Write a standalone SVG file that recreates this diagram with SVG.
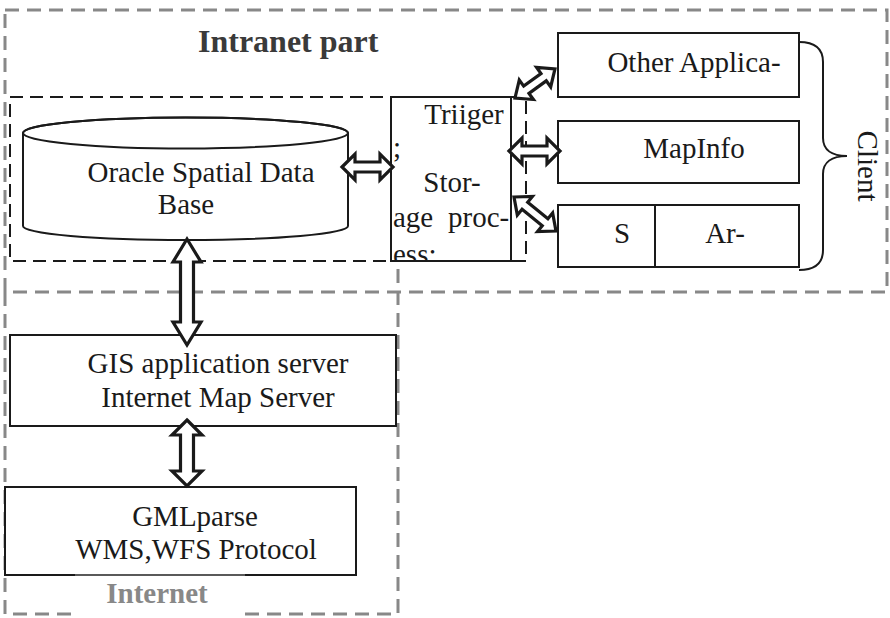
<svg xmlns="http://www.w3.org/2000/svg" width="890" height="618" viewBox="0 0 890 618">
<style>
text{font-family:"Liberation Serif","Times New Roman",serif;font-size:29px;fill:#1a1a1a}
.b{font-weight:bold}
.box{fill:#fff;stroke:#1a1a1a;stroke-width:2}
.gd{fill:none;stroke:#888;stroke-width:3;stroke-dasharray:14 8}
.bd{fill:none;stroke:#1a1a1a;stroke-width:2;stroke-dasharray:13 7}
.arr{fill:#fff;stroke:#1a1a1a;stroke-width:3.2;stroke-linejoin:miter}
</style>
<defs>
<clipPath id="tc"><rect x="391" y="97" width="125" height="164"/></clipPath>
</defs>
<rect width="890" height="618" fill="#fff"/>
<g id="regions">
<rect class="gd" x="5" y="10" width="882" height="282"/>
<path class="gd" d="M5,292 L5,614 L75,614 M245,614 L398,614 L398,262"/>
<rect class="bd" x="10" y="97" width="516" height="164"/>
<text class="b" x="198" y="52" style="font-size:32px;fill:#3a3a3a">Intranet part</text>
</g>
<g id="oracle">
<path class="box" d="M23,133 L23,226 A162.5,14 0 0 0 348,226 L348,133 A162.5,15.5 0 0 0 23,133 Z"/>
<ellipse cx="185.5" cy="133" rx="162.5" ry="15.5" fill="none" stroke="#1a1a1a" stroke-width="2"/>
<text x="201" y="182" text-anchor="middle">Oracle Spatial Data</text>
<text x="186" y="214" text-anchor="middle">Base</text>
</g>
<g id="trigger">
<rect class="box" x="391" y="97" width="120" height="164"/>
<line x1="391" y1="261" x2="522" y2="261" stroke="#1a1a1a" stroke-width="2"/>
<g clip-path="url(#tc)">
<text x="464" y="124" text-anchor="middle">Triiger</text>
<text x="393" y="157">;</text>
<text x="452" y="192" text-anchor="middle">Stor-</text>
<text x="393" y="227">age</text>
<text x="448" y="227">proc-</text>
<text x="393" y="264">ess:</text>
</g>
</g>
<g id="gis">
<rect class="box" x="10" y="335" width="386" height="91"/>
<text x="218" y="373" text-anchor="middle">GIS application server</text>
<text x="218" y="407" text-anchor="middle">Internet Map Server</text>
</g>
<g id="gml">
<rect class="box" x="5" y="487" width="351" height="88"/>
<text x="195" y="526" text-anchor="middle">GMLparse</text>
<text x="196" y="559" text-anchor="middle">WMS,WFS Protocol</text>
</g>
<g id="internet-label">
<rect x="75" y="576" width="170" height="42" fill="#fff"/>
<line x1="75" y1="575" x2="245" y2="575" stroke="#999" stroke-width="1"/>
<text class="b" x="157" y="603" text-anchor="middle" style="fill:#888">Internet</text>
</g>
<g id="other">
<rect class="box" x="558" y="33" width="241" height="64"/>
<text x="694" y="72" text-anchor="middle">Other Applica-</text>
</g>
<g id="mapinfo">
<rect class="box" x="558" y="121" width="241" height="62"/>
<text x="694" y="158" text-anchor="middle">MapInfo</text>
</g>
<g id="arcgis">
<rect class="box" x="558" y="205" width="241" height="62"/>
<line x1="655" y1="205" x2="655" y2="267" stroke="#1a1a1a" stroke-width="2"/>
<text x="622" y="243" text-anchor="middle">S</text>
<text x="725" y="243" text-anchor="middle">Ar-</text>
</g>
<g id="client">
<path d="M799,42 C815,42 823,48 823,62 L823,138 C823,150 832,156 847,156 C832,156 823,162 823,174 L823,250 C823,264 815,270 799,270" fill="none" stroke="#1a1a1a" stroke-width="2"/>
<text x="0" y="0" text-anchor="middle" transform="translate(858,166) rotate(90)">Client</text>
</g>
<g id="connectors">
<polygon class="arr" points="187,239 201,262 193.5,262 193.5,322 201,322 187,345 173,322 180.5,322 180.5,262 173,262"/>
<polygon class="arr" points="187,420 202,435 193.5,435 193.5,471 202,471 187,486 172,471 180.5,471 180.5,435 172,435"/>
<polygon class="arr" points="342,167 355,154 355,162 380,162 380,154 393,167 380,180 380,172 355,172 355,180"/>
<polygon class="arr" points="509,151 522,138 522,146 547,146 547,138 560,151 547,164 547,156 522,156 522,164"/>
<polygon class="arr" transform="translate(515,98) rotate(-36)" points="0,0 14,-12 14,-4.5 35.4,-4.5 35.4,-12 49.4,0 35.4,12 35.4,4.5 14,4.5 14,12"/>
<polygon class="arr" transform="translate(514,197) rotate(39)" points="0,0 14,-12 14,-4.5 40,-4.5 40,-12 54,0 40,12 40,4.5 14,4.5 14,12"/>
</g>
</svg>
